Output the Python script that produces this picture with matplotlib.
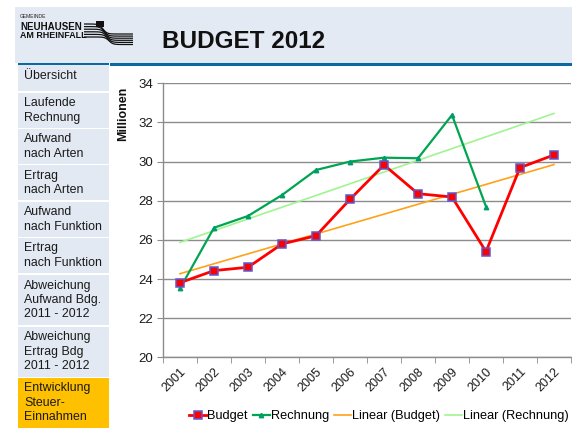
import numpy as np
import matplotlib
matplotlib.use("Agg")
import matplotlib.pyplot as plt
from matplotlib.patches import Rectangle

plt.rcParams['font.family'] = ['Liberation Sans', 'DejaVu Sans']

# data (in millions)
years = ['2001', '2002', '2003', '2004', '2005', '2006',
         '2007', '2008', '2009', '2010', '2011', '2012']
budget = [23.81, 24.43, 24.60, 25.79, 26.21, 28.07,
          29.83, 28.36, 28.19, 25.40, 29.69, 30.34]
rechnung = [23.52, 26.62, 27.22, 28.29, 29.57, 30.00,
            30.20, 30.17, 32.38, 27.70]

menu = ['Übersicht', 'Laufende\nRechnung', 'Aufwand\nnach Arten',
        'Ertrag\nnach Arten', 'Aufwand\nnach Funktion', 'Ertrag\nnach Funktion',
        'Abweichung\nAufwand Bdg.\n2011 - 2012', 'Abweichung\nErtrag Bdg\n2011 - 2012',
        'Entwicklung\nSteuer-\nEinnahmen']
menu_tops = [65, 92.7, 129, 165, 201.7, 238, 275, 326.7, 378]
menu_bottoms = [90.7, 127.7, 164, 200, 236.7, 273, 325, 376.7, 428]

W, H = 572, 429
fig = plt.figure(figsize=(W / 100, H / 100), dpi=100)
fig.patch.set_facecolor('white')

# background layer in pixel coordinates
bg = fig.add_axes([0, 0, 1, 1])
bg.set_xlim(0, W)
bg.set_ylim(H, 0)
bg.axis('off')

# header band
bg.add_patch(Rectangle((15, 7), W - 15, 56, facecolor='#e4eaf3', edgecolor='none'))
bg.add_patch(Rectangle((110, 62.5), W - 110, 3.2, facecolor='#0a6aa1', edgecolor='none'))
bg.add_patch(Rectangle((18, 63.3), 91, 1.2, facecolor='#0a6aa1', edgecolor='none'))

# logo
bg.text(20, 16.5, 'GEMEINDE', fontsize=3.6, color='#222222', va='center')
bg.text(20, 26.5, 'NEUHAUSEN', fontsize=7, fontweight='bold', color='#111111', va='center')
bg.text(20, 35.5, 'AM RHEINFALL', fontsize=6.4, fontweight='bold', color='#111111', va='center')
xs = np.linspace(84, 133, 60)
for k in range(6):
    y0 = 24 + k * 2.6
    drop = 10 - k * 0.5
    ys = y0 + drop * 0.5 * (1 + np.tanh((xs - 103 - k * 1.2) / 4))
    bg.plot(xs, ys, color='#111111', lw=0.9, solid_capstyle='butt')
bg.add_patch(Rectangle((96, 21), 8, 6, facecolor='#111111', edgecolor='none'))

# title
bg.text(162, 42, 'BUDGET 2012', fontsize=17.5, fontweight='bold', color='#111111', va='center')

# side menu
for i, label in enumerate(menu):
    fc = '#ffc000' if i == len(menu) - 1 else '#e3e9f2'
    top = menu_tops[i]
    bottom = menu_bottoms[i]
    bg.add_patch(Rectangle((18, top), 91, bottom - top, facecolor=fc, edgecolor='none'))
    ty = top + 4.5 if i > 0 else top + 5
    bg.text(24, ty, label, fontsize=8.9, color='#1a1a1a', va='top', linespacing=1.26)

# chart
ax = fig.add_axes([163 / W, 1 - 357.3 / H, 408 / W, 274 / H])
x_b = np.arange(1, len(budget) + 1)
x_r = np.arange(1, len(rechnung) + 1)
x_all = np.arange(1, len(years) + 1)

fit_b = np.polyfit(x_b, budget, 1)
fit_r = np.polyfit(x_r, rechnung, 1)

ax.plot(x_b, budget, color='#ff0000', lw=2, marker='s', ms=5.5,
        mfc='#ff0000', mec='#5a5ad6', mew=1.1, label='Budget', zorder=4)
ax.plot(x_r, rechnung, color='#00a550', lw=1.6, marker='^', ms=3.2,
        mfc='#009b6e', mec='#009b6e', label='Rechnung', zorder=3)
ax.plot(x_all, np.polyval(fit_b, x_all), color='#ffa21a', lw=1.2,
        label='Linear (Budget)', zorder=2)
ax.plot(x_all, np.polyval(fit_r, x_all), color='#a0f590', lw=1.2,
        label='Linear (Rechnung)', zorder=2)

ax.set_xlim(0.5, len(years) + 0.5)
ax.set_ylim(20, 34)
ax.set_yticks(np.arange(20, 35, 2))
ax.set_xticks(x_all)
ax.set_xticklabels(years, rotation=45, ha='right', va='top', rotation_mode='anchor')
ax.set_xticks(np.arange(0.5, len(years) + 1, 1), minor=True)
ax.tick_params(axis='x', which='major', length=0, pad=6, labelsize=9, labelcolor='#1a1a1a')
ax.tick_params(axis='x', which='minor', length=4, color='#8c8c8c', direction='out')
ax.tick_params(axis='y', length=4, color='#8c8c8c', labelsize=9.5, labelcolor='#1a1a1a', pad=3)

ax.grid(axis='y', color='#8c8c8c', lw=1.0)
ax.set_axisbelow(True)
for s in ['top', 'right']:
    ax.spines[s].set_visible(False)
for s in ['left', 'bottom']:
    ax.spines[s].set_color('#8c8c8c')
    ax.spines[s].set_linewidth(1.0)

ax.set_ylabel('Millionen', fontsize=9, fontweight='bold', color='#111111')
ax.yaxis.set_label_coords(-0.083, 0.89)

fig.legend(loc='center', bbox_to_anchor=(379 / W, 1 - 416.5 / H), ncol=4, frameon=False,
           fontsize=9.2, handlelength=1.35, handletextpad=0.05, columnspacing=0.4,
           borderpad=0)

fig.savefig('out.png', dpi=100)
